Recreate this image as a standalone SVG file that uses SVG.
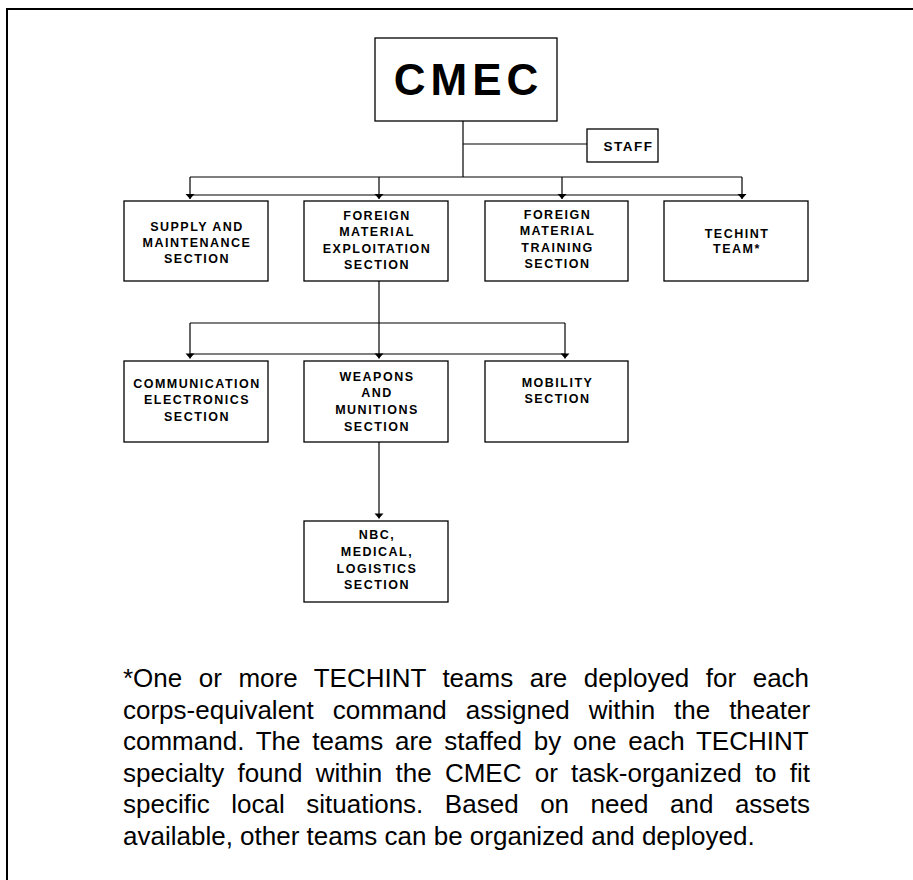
<svg xmlns="http://www.w3.org/2000/svg" width="913" height="880" viewBox="0 0 913 880">
<style>
.box{fill:#fff;stroke:#000;stroke-width:1.3}
.lbl{font-family:"Liberation Sans",Arial,sans-serif;font-weight:bold;font-size:12.5px;letter-spacing:1.5px;text-anchor:middle;fill:#000}
.ln{stroke:#000;stroke-width:1.2;fill:none}
.note{font-family:"Liberation Sans",Arial,sans-serif;font-size:26px;fill:#000}
</style>
<defs>
<marker id="arr" markerUnits="userSpaceOnUse" markerWidth="10" markerHeight="10" refX="5" refY="0" viewBox="0 -5 6 10" orient="auto" overflow="visible">
<path d="M0,-4.5 L5,0 L0,4.5 z" fill="#000"/>
</marker>
</defs>
<rect x="7" y="9" width="930" height="900" fill="none" stroke="#000" stroke-width="2"/>
<g id="connectors">
<line class="ln" x1="463" y1="121" x2="463" y2="177"/>
<line class="ln" x1="463" y1="144" x2="587" y2="144"/>
<line class="ln" x1="190" y1="177" x2="742" y2="177"/>
<line class="ln" x1="190" y1="195" x2="742" y2="195"/>
<line class="ln" x1="190" y1="177" x2="190" y2="199" marker-end="url(#arr)"/>
<line class="ln" x1="379" y1="177" x2="379" y2="199" marker-end="url(#arr)"/>
<line class="ln" x1="562" y1="177" x2="562" y2="199" marker-end="url(#arr)"/>
<line class="ln" x1="742" y1="177" x2="742" y2="199" marker-end="url(#arr)"/>
<line class="ln" x1="379" y1="281" x2="379" y2="323"/>
<line class="ln" x1="190" y1="323" x2="565" y2="323"/>
<line class="ln" x1="190" y1="354" x2="565" y2="354"/>
<line class="ln" x1="190" y1="323" x2="190" y2="358.5" marker-end="url(#arr)"/>
<line class="ln" x1="379" y1="323" x2="379" y2="358.5" marker-end="url(#arr)"/>
<line class="ln" x1="565" y1="323" x2="565" y2="358.5" marker-end="url(#arr)"/>
<line class="ln" x1="379" y1="442" x2="379" y2="518.5" marker-end="url(#arr)"/>
</g>
<g id="cmec">
<rect class="box" x="375" y="38" width="182" height="83"/>
<text x="468.5" y="95" font-family="Liberation Sans,Arial,sans-serif" font-weight="bold" font-size="44" letter-spacing="5" text-anchor="middle">CMEC</text>
</g>
<g id="staff">
<rect class="box" x="587" y="129" width="71" height="33"/>
<text x="628.5" y="151" font-family="Liberation Sans,Arial,sans-serif" font-weight="bold" font-size="13.5" letter-spacing="1.5" text-anchor="middle">STAFF</text>
</g>
<g id="supply">
<rect class="box" x="124" y="201" width="144" height="80"/>
<text class="lbl" x="197"><tspan x="197" y="230.7">SUPPLY AND</tspan><tspan x="197" y="246.7">MAINTENANCE</tspan><tspan x="197" y="262.7">SECTION</tspan></text>
</g>
<g id="fme">
<rect class="box" x="304" y="201" width="144" height="80"/>
<text class="lbl"><tspan x="377" y="220">FOREIGN</tspan><tspan x="377" y="236.3">MATERIAL</tspan><tspan x="377" y="252.7">EXPLOITATION</tspan><tspan x="377" y="269">SECTION</tspan></text>
</g>
<g id="fmt">
<rect class="box" x="485" y="201" width="143" height="80"/>
<text class="lbl"><tspan x="557.5" y="218.5">FOREIGN</tspan><tspan x="557.5" y="235">MATERIAL</tspan><tspan x="557.5" y="251.7">TRAINING</tspan><tspan x="557.5" y="268.3">SECTION</tspan></text>
</g>
<g id="techint">
<rect class="box" x="664" y="201" width="144" height="80"/>
<text class="lbl"><tspan x="737" y="237.7">TECHINT</tspan><tspan x="737" y="253.3">TEAM*</tspan></text>
</g>
<g id="comm">
<rect class="box" x="124" y="361" width="144" height="81"/>
<text class="lbl"><tspan x="197" y="387.5">COMMUNICATION</tspan><tspan x="197" y="404">ELECTRONICS</tspan><tspan x="197" y="420.5">SECTION</tspan></text>
</g>
<g id="weapons">
<rect class="box" x="304" y="361" width="144" height="81"/>
<text class="lbl"><tspan x="377" y="380.7">WEAPONS</tspan><tspan x="377" y="397.3">AND</tspan><tspan x="377" y="414">MUNITIONS</tspan><tspan x="377" y="430.7">SECTION</tspan></text>
</g>
<g id="mobility">
<rect class="box" x="485" y="361" width="143" height="81"/>
<text class="lbl"><tspan x="557.5" y="387">MOBILITY</tspan><tspan x="557.5" y="403">SECTION</tspan></text>
</g>
<g id="nbc">
<rect class="box" x="304" y="521" width="144" height="81"/>
<text class="lbl"><tspan x="377" y="539.3">NBC,</tspan><tspan x="377" y="556">MEDICAL,</tspan><tspan x="377" y="572.7">LOGISTICS</tspan><tspan x="377" y="589.3">SECTION</tspan></text>
</g>
<g id="footnote" class="note">
<text x="123" y="687" word-spacing="9.29">*One or more TECHINT teams are deployed for each</text>
<text x="123" y="718.5" word-spacing="11.68">corps-equivalent command assigned within the theater</text>
<text x="123" y="750" word-spacing="4.59">command. The teams are staffed by one each TECHINT</text>
<text x="123" y="781.5" word-spacing="6.04">specialty found within the CMEC or task-organized to fit</text>
<text x="123" y="813" word-spacing="14.32">specific local situations. Based on need and assets</text>
<text x="123" y="844.5">available, other teams can be organized and deployed.</text>
</g>
</svg>
